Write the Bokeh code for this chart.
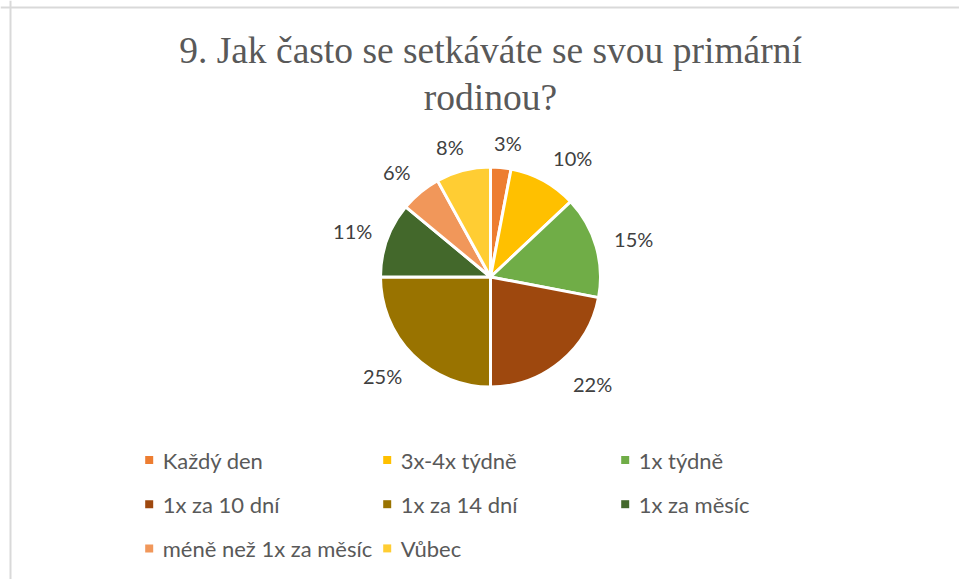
import numpy as np
from bokeh.plotting import figure
from bokeh.models import ColumnDataSource, Range1d, Span
from bokeh.embed import file_html
from bokeh.resources import INLINE
from bokeh.core.properties import value

# ---- data -------------------------------------------------------------
title_lines = ["9. Jak často se setkáváte se svou primární", "rodinou?"]
categories = ["Každý den", "3x-4x týdně", "1x týdně", "1x za 10 dní",
              "1x za 14 dní", "1x za měsíc", "méně než 1x za měsíc", "Vůbec"]
shares = [3, 10, 15, 22, 25, 11, 6, 8]
colors = ["#ED7D31", "#FFC000", "#70AD47", "#9E480E",
          "#997300", "#43682B", "#F1975A", "#FFCD33"]

# ---- figure (1 data unit = 1 px) -------------------------------------
W, H = 959, 579
p = figure(width=W, height=H, x_range=Range1d(0, W), y_range=Range1d(0, H),
           x_axis_type=None, y_axis_type=None, toolbar_location=None,
           output_backend="svg", min_border=0)
p.outline_line_color = None
p.background_fill_color = "white"
p.border_fill_color = "white"

# chart border (top and left visible in the reference crop)
p.add_layout(Span(location=10, dimension="height", line_color="#d9d9d9", line_width=2))
p.add_layout(Span(location=572, dimension="width", line_color="#d9d9d9", line_width=2))

# ---- title ------------------------------------------------------------
cx = 490.0
title_fs = 37.5
p.text(x=[cx, cx], y=[516 + 0.35 * title_fs, 469 + 0.35 * title_fs], text=title_lines,
       text_align="center", text_baseline="alphabetic",
       text_font=value("'Liberation Serif', 'Times New Roman', serif"),
       text_font_size=f"{title_fs}px", text_color="#595959")

# ---- pie --------------------------------------------------------------
cy = 302.5
R = 110.0
vals = np.array(shares, dtype=float)
frac = vals / vals.sum()
cum = np.concatenate([[0.0], np.cumsum(frac)])
start = np.pi / 2 - 2 * np.pi * cum[:-1]
end = np.pi / 2 - 2 * np.pi * cum[1:]
src = ColumnDataSource(dict(start=start, end=end, color=colors, cat=categories))
p.wedge(x=cx, y=cy, radius=R, start_angle="start", end_angle="end",
        direction="clock", fill_color="color", line_color="white",
        line_width=3, source=src)

# ---- data labels (outside end) ----------------------------------------
lab_fs = 20
labels = [f"{int(v)}%" for v in shares]
mid = 2 * np.pi * (cum[:-1] + cum[1:]) / 2   # clockwise from top
s, c = np.sin(mid), np.cos(mid)
r_anchor = R - 1.5 + 19
hw = np.array([(len(t) - 1) * 0.54 * lab_fs + 0.85 * lab_fs for t in labels]) / 2
hh = 8.0
lx = cx + r_anchor * s + hw * np.clip(3 * s, -1, 1) + 1.5
ly = cy + r_anchor * c + hh * np.clip(1.5 * c, -1, 1)
p.text(x=lx, y=ly - 7.0 + 6.0, text=labels, text_align="center",
       text_baseline="alphabetic", text_font=value("Lato"),
       text_font_size=f"{lab_fs}px", text_color="#404040")

# ---- legend (3 columns) -----------------------------------------------
idx = np.arange(len(categories))
col = idx % 3
row = idx // 3
mx = 148.7 + col * 238.0
my = 119.5 - row * 44.2
p.scatter(x=mx, y=my, marker="square", size=8, fill_color=colors, line_color=None)
p.text(x=mx + 13.5, y=my - 7.4 + 7.0, text=categories, text_align="left",
       text_baseline="alphabetic", text_font=value("Lato"),
       text_font_size="22px", text_color="#595959")

open("out.html", "w").write(file_html(p, INLINE))
